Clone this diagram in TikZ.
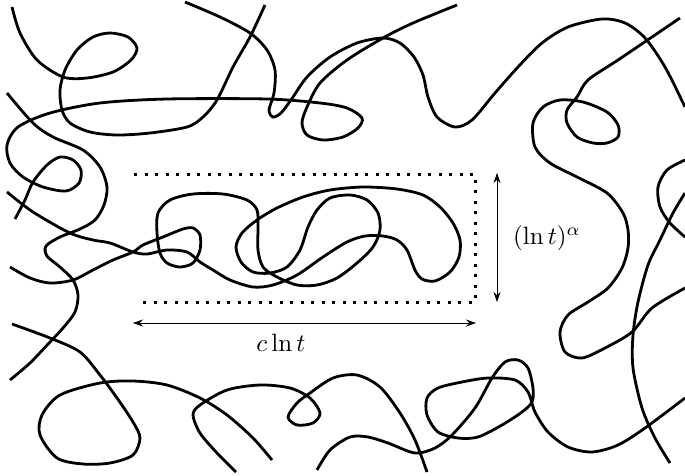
\documentclass[tikz,border=0pt]{standalone}
\usetikzlibrary{arrows.meta}
\tikzset{
  walk/.style={line width=2.8pt, line join=round},
  bbox/.style={line width=3pt, dash pattern=on 3pt off 7.5pt},
  dim/.style={line width=0.8pt, {Stealth[length=10pt,width=7pt]}-{Stealth[length=10pt,width=7pt]}},
  lab/.style={scale=2.5, inner sep=0pt}
}
\begin{document}
\begin{tikzpicture}[x=1pt,y=-1pt]
\useasboundingbox (0,0) rectangle (685,475);
% curve A
\draw[walk] plot[smooth] coordinates {(12,7) (20,33) (37,60) (63,77) (87,78) (113,72) (131,60) (137,48) (128,37) (110,33) (93,37) (77,50) (65,70) (60,90) (62,110) (70,123) (90,132) (117,135) (150,133) (187,127) (203,117) (217,100) (233,67) (250,37) (265,5)};
% curve K
\draw[walk] plot[smooth] coordinates {(185,2) (220,17) (250,33) (267,50) (275,70) (274,93) (269,110) (273,117) (281,113) (291,100) (307,77) (330,57) (357,43) (383,38) (400,43) (414,57) (423,75) (428,97) (437,117) (455,127) (472,120) (495,93) (518,67) (542,43) (568,27) (602,19) (625,23) (645,38) (665,67) (685,107)};
% curve B
\draw[walk] plot[smooth] coordinates {(15,219) (25,200) (33,182) (47,165) (60,157) (73,160) (81,170) (79,183) (66,191) (43,187) (23,177) (10,163) (7,145) (18,127) (50,113) (100,103) (167,99) (267,99) (320,103) (347,108) (362,118) (358,128) (343,137) (323,140) (307,135) (302,123) (307,107) (320,83) (347,60) (383,38) (413,23) (457,5)};
% curve C
\draw[walk] plot[smooth] coordinates {(7,93) (33,123) (53,137) (83,150) (100,167) (107,187) (104,205) (95,220) (80,229) (60,237) (46,246) (47,256) (60,267) (73,280) (78,295) (75,312) (63,328) (50,342) (30,363) (10,380)};
% curve D (inner walk)
\draw[walk] plot[smooth] coordinates {(7,192) (33,212) (70,233) (93,240) (110,243) (133,252) (147,254) (167,250) (187,252) (200,262) (213,270) (230,280) (253,287) (273,285) (297,275) (323,257) (347,242) (365,236) (383,236) (397,240) (407,250) (415,270) (422,279) (435,281) (450,272) (459,257) (460,240) (453,223) (440,207) (423,195) (397,189) (363,187) (330,190) (303,197) (277,208) (257,220) (242,233) (236,247) (241,262) (253,272) (270,273) (287,267) (300,250) (308,227) (317,210) (330,198) (350,195) (367,200) (378,213) (380,230) (373,247) (357,263) (337,278) (317,285) (297,285) (277,277) (263,267) (258,250) (258,227) (257,210) (247,200) (223,194) (193,194) (170,200) (158,213) (157,233) (160,253) (167,263) (180,267) (193,263) (200,250) (200,235) (193,228) (183,229) (163,237) (143,245) (133,252) (113,260) (93,270) (73,280) (50,283) (30,278) (10,267)};
% curve F
\draw[walk] plot[smooth] coordinates {(12,324) (50,338) (80,352) (100,375) (117,398) (133,422) (140,438) (133,455) (110,463) (83,464) (57,458) (40,435) (42,415) (60,395) (100,383) (133,381) (167,385) (200,398) (227,415) (253,438) (272,460)};
% curve G
\draw[walk] plot[smooth] coordinates {(236,472) (217,453) (200,433) (193,415) (200,405) (227,390) (260,385) (290,388) (310,398) (320,413) (313,423) (297,425) (288,417) (297,403) (310,393) (333,378) (357,375) (380,387) (400,413) (415,440) (427,472)};
% curve H
\draw[walk] plot[smooth] coordinates {(317,470) (330,450) (350,437) (368,437) (388,443) (415,453) (435,448) (452,435) (475,408) (492,378) (505,362) (518,360) (528,368) (533,388) (532,402) (522,412) (502,425) (478,437) (458,438) (438,432) (427,415) (427,398) (438,388) (462,382) (488,378) (515,380) (528,392) (535,412) (548,432) (568,447) (592,452) (618,445) (645,428) (685,398)};
% curve J
\draw[walk] plot[smooth] coordinates {(685,288) (652,308) (632,332) (605,348) (582,358) (565,352) (560,332) (568,315) (588,302) (608,288) (622,268) (628,248) (628,230) (623,213) (607,193) (577,177) (550,163) (535,147) (533,123) (543,107) (560,100) (583,102) (607,112) (618,125) (618,137) (607,143) (593,143) (577,137) (567,123) (567,110) (577,97) (588,80) (618,60) (652,37) (680,18)};
% curve L
\draw[walk] plot[smooth] coordinates {(685,160) (667,170) (658,187) (660,207) (670,223) (685,237)};
% curve M
\draw[walk] plot[smooth] coordinates {(685,193) (673,213) (660,240) (648,265) (638,302) (633,335) (633,368) (642,408) (655,438) (670,463)};
% dotted box
\coordinate (b1) at (134,174);
\coordinate (b2) at (475,174);
\coordinate (b3) at (475,302);
\coordinate (b4) at (143,302);
\draw[bbox] (b1) -- (b2) -- (b3) -- (b4);
% dimension arrows
\coordinate (vt) at (497,173);
\coordinate (vb) at (497,302);
\draw[dim] (vt) -- (vb);
\coordinate (hl) at (133,323);
\coordinate (hr) at (476,323);
\draw[dim] (hl) -- (hr);
\node[lab] (clnt) at (281,343) {$c\ln t$};
\node[lab] (lnta) at (547,238) {$(\ln t)^\alpha$};
\end{tikzpicture}
\end{document}
